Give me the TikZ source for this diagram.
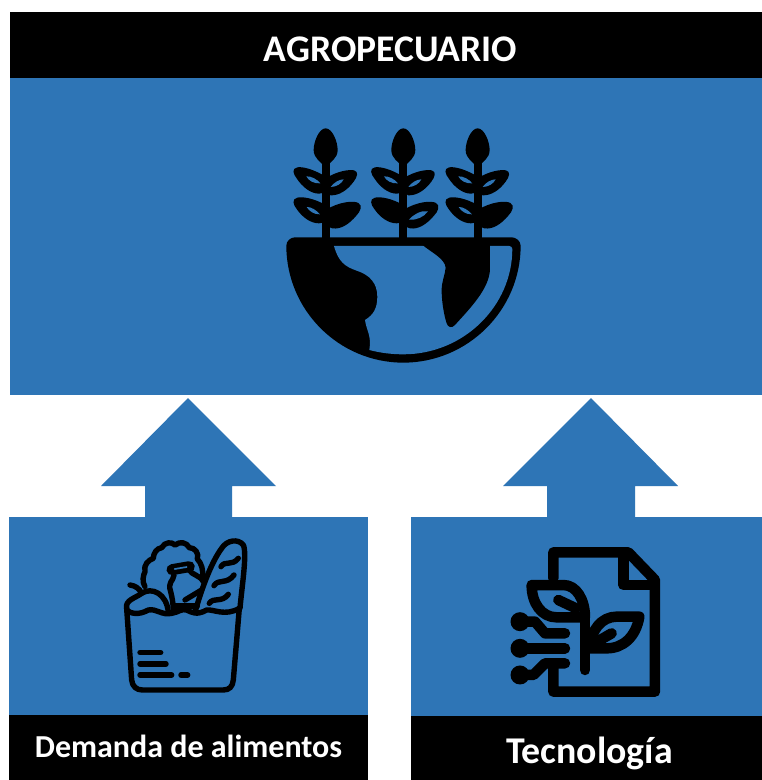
\documentclass[tikz,border=0pt]{standalone}
\usepackage{fontspec}
\setmainfont{Carlito}
\definecolor{bl}{HTML}{2E75B6}
\tikzset{
 panel/.style={fill=bl,draw=none},
 bar/.style={fill=black,draw=none},
 updart/.style={fill=bl,draw=none},
 ink/.style={fill=black,draw=none},
 hole/.style={fill=bl,draw=none},
 bagline/.style={draw=black,line width=5.4pt,line cap=round,line join=round},
 techline/.style={draw=black,line width=10.5pt,line cap=round,line join=round},
 lbl/.style={text=white,inner sep=0pt,anchor=center},
 icon/.style={x=0.3333pt,y=-0.3333pt}
}
\newcommand{\plantstem}[1]{%
 \begin{scope}[xshift=#1*0.3333pt]
 \fill[ink] (-12,140) rectangle (12,372);
 \fill[ink] (0,40) .. controls (20,40) and (36,80) .. (36,105) .. controls (36,130) and (15,140) .. (0,158) .. controls (-15,140) and (-36,130) .. (-36,105) .. controls (-36,80) and (-20,40) .. (0,40) -- cycle;
 \fill[ink] (0,185) .. controls (-35,163) and (-70,154) .. (-85,157) .. controls (-103,160) and (-97,178) .. (-87,190) .. controls (-70,216) and (-45,236) .. (-20,236) .. controls (-8,236) and (0,228) .. (0,215) -- cycle;
 \fill[ink] (0,190) .. controls (35,168) and (70,163) .. (85,166) .. controls (100,170) and (95,186) .. (84,200) .. controls (65,226) and (40,242) .. (15,241) .. controls (6,240) and (0,232) .. (0,220) -- cycle;
 \fill[ink] (0,270) .. controls (-35,250) and (-70,244) .. (-85,248) .. controls (-103,252) and (-97,270) .. (-87,282) .. controls (-70,307) and (-45,325) .. (-20,325) .. controls (-8,325) and (0,318) .. (0,305) -- cycle;
 \fill[ink] (0,285) .. controls (40,260) and (85,256) .. (98,264) .. controls (112,271) and (104,290) .. (92,302) .. controls (70,328) and (45,344) .. (20,340) .. controls (6,338) and (0,325) .. (0,310) -- cycle;
 \end{scope}}
\newcommand{\holeUL}{(-58,184) .. controls (-44,183) and (-25,193) .. (-16,205) .. controls (-34,207) and (-52,197) .. (-58,184) -- cycle}
\newcommand{\holeUR}{(54,193) .. controls (40,193) and (24,203) .. (15,216) .. controls (32,216) and (48,206) .. (54,193) -- cycle}
\newcommand{\holeLL}{(-57,276) .. controls (-44,275) and (-27,286) .. (-17,298) .. controls (-35,299) and (-50,288) .. (-57,276) -- cycle}
\newcommand{\holeLR}{(74,289) .. controls (55,285) and (30,298) .. (17,314) .. controls (40,316) and (62,306) .. (74,289) -- cycle}
\begin{document}
\begin{tikzpicture}[x=1pt,y=-1pt]
\useasboundingbox (0,0) rectangle (762,780);
\fill[white] (0,0) rectangle (762,780);
% main panel
\node[panel,minimum width=752pt,minimum height=317pt,anchor=north west,inner sep=0pt] (main) at (10,78) {};
\node[bar,minimum width=752pt,minimum height=66pt,anchor=north west,inner sep=0pt] (top) at (10,12) {};
\node[lbl,font=\bfseries\fontsize{37.6}{38}\selectfont] (toplabel) at (390.5,49) {AGROPECUARIO};
% lower panels
\node[panel,minimum width=359pt,minimum height=198pt,anchor=north west,inner sep=0pt] (lp) at (9,517) {};
\node[bar,minimum width=359pt,minimum height=65pt,anchor=north west,inner sep=0pt] (lb) at (9,715) {};
\node[lbl,font=\bfseries\fontsize{32}{32}\selectfont] (ll) at (188.5,746) {Demanda de alimentos};
\node[panel,minimum width=351pt,minimum height=199pt,anchor=north west,inner sep=0pt] (rp) at (411,517) {};
\node[bar,minimum width=351pt,minimum height=64pt,anchor=north west,inner sep=0pt] (rb) at (411,716) {};
\node[lbl,font=\bfseries\fontsize{37.8}{38}\selectfont] (rl) at (589.5,753) {Tecnología};
% arrows
\fill[updart] (188,398) -- (276,486) -- (232,486) -- (232,518) -- (145,518) -- (145,486) -- (101,486) -- cycle;
\fill[updart] (591,398) -- (678,486) -- (635,486) -- (635,518) -- (547,518) -- (547,486) -- (503,486) -- cycle;
% globe icon
\begin{scope}[shift={(270,115)},icon]
 \plantstem{167}
 \plantstem{400}
 \plantstem{623}
 \begin{scope}[xshift=167*0.3333pt]
  \fill[hole] \holeUL; \fill[hole] \holeUR; \fill[hole] \holeLL;
 \end{scope}
 \begin{scope}[xshift=400*0.3333pt]
  \fill[hole] \holeUL; \fill[hole] \holeUR; \fill[hole] \holeLR;
 \end{scope}
 \begin{scope}[xshift=623*0.3333pt]
  \fill[hole] \holeUL; \fill[hole] \holeUR; \fill[hole] \holeLL;
 \end{scope}
 \fill[ink] (49,392) .. controls (49,585.3) and (206.7,743) .. (400,743) .. controls (593.3,743) and (752,585.3) .. (752,392) .. controls (752,378) and (738,367) .. (725,367) -- (75,367) .. controls (62,367) and (49,378) .. (49,392) -- cycle;
 \fill[hole] (192,393) .. controls (205,440) and (225,455) .. (260,467) .. controls (300,480) and (322,505) .. (322,545) .. controls (322,580) and (310,600) .. (285,615) .. controls (290,650) and (305,660) .. (298,705) .. controls (332,714) and (366,718) .. (400,718) .. controls (581,718) and (727,573) .. (727,402) .. controls (727,397) and (723,393) .. (718,393) -- cycle;
 \fill[ink] (458,390) .. controls (480,410) and (525,430) .. (527,458) .. controls (525,480) and (515,500) .. (515,525) .. controls (515,560) and (522,600) .. (530,625) .. controls (534,638) and (546,640) .. (555,630) .. controls (600,580) and (660,520) .. (660,460) -- (660,390) -- cycle;
\end{scope}
% grocery icon
\begin{scope}[shift={(110,525)},icon]
 \draw[bagline] (50,250) -- (65,465) .. controls (67,485) and (80,495) .. (97,495) -- (340,495) .. controls (358,495) and (368,485) .. (370,465) -- (388,250);
 \draw[bagline] (50,255) .. controls (60,265) and (85,272) .. (115,255) .. controls (140,250) and (155,272) .. (185,265) .. controls (205,262) and (215,250) .. (230,255) .. controls (245,262) and (260,272) .. (290,255) .. controls (310,252) and (345,275) .. (388,250);
 \draw[bagline] (50,250) .. controls (45,225) and (75,220) .. (95,205) .. controls (125,185) and (170,205) .. (175,262);
 \draw[bagline] (60,180) .. controls (75,182) and (88,190) .. (95,205);
 \draw[bagline] (105,185) .. controls (95,170) and (100,150) .. (105,140) .. controls (100,120) and (115,105) .. (130,100) .. controls (130,85) and (140,70) .. (155,68) .. controls (165,50) and (185,50) .. (195,60) .. controls (210,48) and (230,52) .. (238,68) .. controls (255,68) and (268,85) .. (262,102) .. controls (275,115) and (280,135) .. (278,158);
 \draw[bagline,line width=11pt] (186,134) -- (238,125);
 \draw[draw=bl,line width=1.7pt,line cap=round] (194,132) -- (230,126);
 \draw[bagline] (192,150) .. controls (190,170) and (172,170) .. (182,200) .. controls (186,215) and (190,235) .. (190,262);
 \draw[bagline] (238,135) .. controls (245,150) and (270,150) .. (280,170);
 \draw[bagline] (196,243) -- (262,243);
 \draw[bagline] (225,225) -- (275,195);
 \draw[bagline] (255,262) .. controls (275,190) and (305,110) .. (335,70) .. controls (350,45) and (385,40) .. (400,60) .. controls (412,85) and (395,190) .. (390,250);
 \draw[bagline] (333,125) .. controls (345,105) and (365,125) .. (385,100);
 \draw[bagline] (312,182) .. controls (325,160) and (350,180) .. (372,150);
 \draw[bagline] (298,235) .. controls (310,215) and (335,235) .. (355,208);
 \draw[bagline] (90,383) -- (152,383);
 \draw[bagline] (90,417) -- (168,417);
 \draw[bagline] (90,450) -- (185,450);
 \draw[bagline] (213,450) -- (233,450);
\end{scope}
% tech icon
\begin{scope}[shift={(500,535)},icon]
 \draw[techline] (160,130) -- (160,52) -- (385,52) -- (465,135) -- (465,470) -- (160,470) -- (160,400);
 \draw[techline] (370,60) -- (370,150) -- (460,150);
 \draw[techline] (95,150) -- (190,150) .. controls (230,150) and (255,195) .. (255,247) -- (170,247) .. controls (125,247) and (95,205) .. (95,150) -- cycle;
 \draw[techline] (255,247) -- (255,405);
 \draw[techline] (418,245) -- (350,245) .. controls (305,245) and (272,285) .. (270,340) -- (320,340) .. controls (370,340) and (408,305) .. (418,245) -- cycle;
 \draw[techline] (175,195) -- (228,220);
 \draw[techline] (295,318) -- (335,295);
 \draw[techline] (60,260) -- (105,260) -- (135,295) -- (195,295);
 \draw[techline] (60,340) -- (195,340);
 \draw[techline] (60,420) -- (100,420) -- (135,385) -- (195,385);
 \fill[ink] (60,260) circle[radius=9.5pt];
 \fill[ink] (60,340) circle[radius=9.5pt];
 \fill[ink] (60,420) circle[radius=9.5pt];
\end{scope}
\end{tikzpicture}
\end{document}
